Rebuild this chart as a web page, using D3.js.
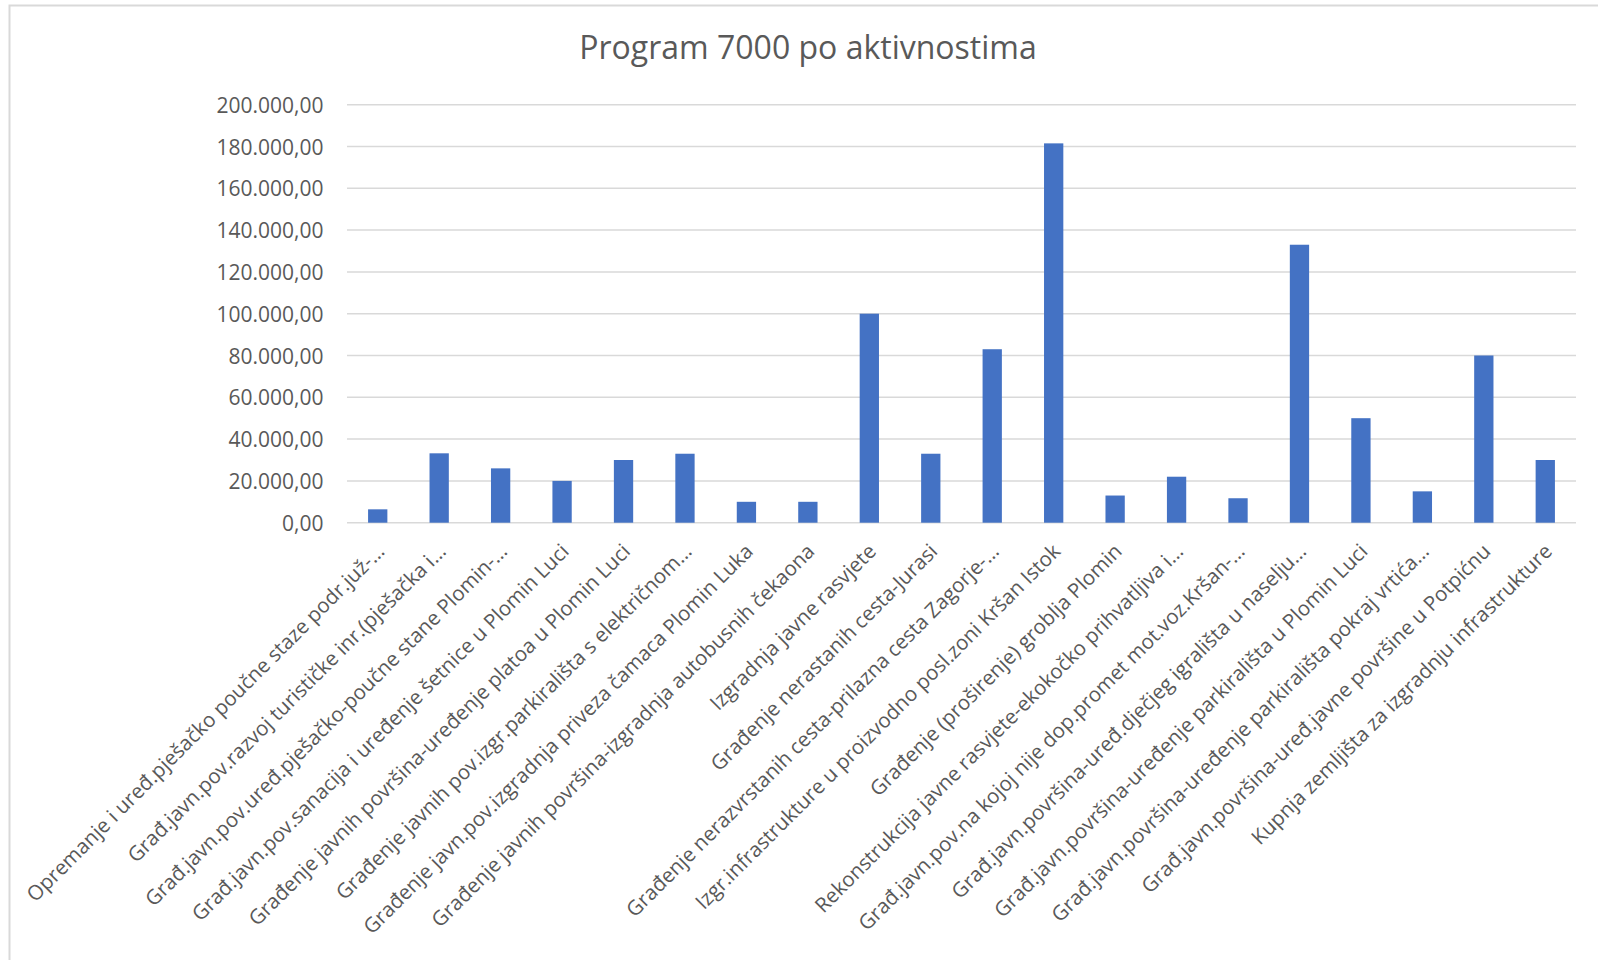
<html>
<head>
<meta charset="utf-8">
<style>
    body { margin: 0; background: #fff; }
    .title { font: 32px "Open Sans", sans-serif; fill: #595959; text-anchor: middle; }
    .yaxis text { font: 21px "Open Sans", sans-serif; fill: #595959; }
    .xlabels text { font: 20.5px "Open Sans", sans-serif; fill: #595959; text-anchor: end; }
    .grid line { stroke: #d9d9d9; stroke-width: 1.5px; }
</style>
</head>
<body>
<svg id="chart" width="1598" height="960"></svg>
<script src="https://cdn.jsdelivr.net/npm/d3@7"></script>
<script>
    // activities (labels as Excel shows them, truncated)
    let categories = [
        "Opremanje i uređ.pješačko poučne staze podr.juž-…",
        "Građ.javn.pov.razvoj turističke inr.(pješačka i…",
        "Građ.javn.pov.uređ.pješačko-poučne stane Plomin-…",
        "Građ.javn.pov.sanacija i uređenje šetnice u Plomin Luci",
        "Građenje javnih površina-uređenje platoa u Plomin Luci",
        "Građenje javnih pov.izgr.parkirališta s električnom…",
        "Građenje javn.pov.izgradnja priveza čamaca Plomin Luka",
        "Građenje javnih površina-izgradnja autobusnih čekaona",
        "Izgradnja javne rasvjete",
        "Građenje nerastanih cesta-Jurasi",
        "Građenje nerazvrstanih cesta-prilazna cesta Zagorje-…",
        "Izgr.infrastrukture u proizvodno posl.zoni Kršan Istok",
        "Građenje (proširenje) groblja Plomin",
        "Rekonstrukcija javne rasvjete-ekokočko prihvatljiva i…",
        "Građ.javn.pov.na kojoj nije dop.promet mot.voz.Kršan-…",
        "Građ.javn.površina-uređ.dječjeg igrališta u naselju…",
        "Građ.javn.površina-uređenje parkirališta u Plomin Luci",
        "Građ.javn.površina-uređenje parkirališta pokraj vrtića…",
        "Građ.javn.površina-uređ.javne površine u Potpićnu",
        "Kupnja zemljišta za izgradnju infrastrukture"
    ]
    let amounts = [6400, 33200, 26000, 20000, 30000, 33000, 10000, 10000, 100000, 33000,
                   83000, 181500, 13000, 22000, 11700, 133000, 50000, 15000, 80000, 30000]
    let yTicks = [0, 20000, 40000, 60000, 80000, 100000, 120000, 140000, 160000, 180000, 200000]
    let chartTitle = "Program 7000 po aktivnostima"

    let svg = d3.select("#chart")

    // chart border (right and bottom edges fall outside the picture)
    svg.append("rect")
        .attr("x", 9.5).attr("y", 5.5)
        .attr("width", 1700).attr("height", 1100)
        .attr("fill", "none")
        .attr("stroke", "#d9d9d9")
        .attr("stroke-width", 2)

    let plotLeft = 347, plotRight = 1576, plotTop = 104.7, plotBottom = 522.7

    let x = d3.scaleBand()
        .domain(categories)
        .range([plotLeft, plotRight])
        .paddingInner(0.686)
        .paddingOuter(0.343)

    let y = d3.scaleLinear()
        .domain([0, 200000])
        .range([plotBottom, plotTop])

    let hr = d3.formatLocale({decimal: ",", thousands: ".", grouping: [3], currency: ["", ""]})
    let fmt = hr.format(",.2f")

    svg.append("text")
        .attr("class", "title")
        .attr("x", 808)
        .attr("y", 59)
        .text(chartTitle)

    // gridlines
    svg.append("g")
        .attr("class", "grid")
        .selectAll("line")
        .data(yTicks)
        .enter().append("line")
        .attr("x1", plotLeft).attr("x2", plotRight)
        .attr("y1", d => y(d)).attr("y2", d => y(d))

    // y axis labels
    let yAxis = d3.axisLeft(y).tickValues(yTicks).tickFormat(fmt).tickSize(0).tickPadding(23.5)
    svg.append("g")
        .attr("class", "yaxis")
        .attr("transform", "translate(" + plotLeft + ",0)")
        .call(yAxis)
        .call(g => g.select(".domain").remove())
        .call(g => g.selectAll("text").attr("dy", "0.36em"))
        .attr("font-family", null).attr("font-size", null)

    // bars
    svg.append("g")
        .selectAll("rect")
        .data(amounts)
        .enter().append("rect")
        .attr("x", (d, i) => x(categories[i]))
        .attr("width", x.bandwidth())
        .attr("y", d => y(d))
        .attr("height", d => y(0) - y(d))
        .attr("fill", "#4472c4")

    // rotated category labels
    svg.append("g")
        .attr("class", "xlabels")
        .selectAll("text")
        .data(categories)
        .enter().append("text")
        .attr("transform", d => "translate(" + (x(d) + x.bandwidth() / 2 + 8) + "," + (plotBottom + 30) + ") rotate(-45)")
        .text(d => d)
</script>
</body>
</html>
